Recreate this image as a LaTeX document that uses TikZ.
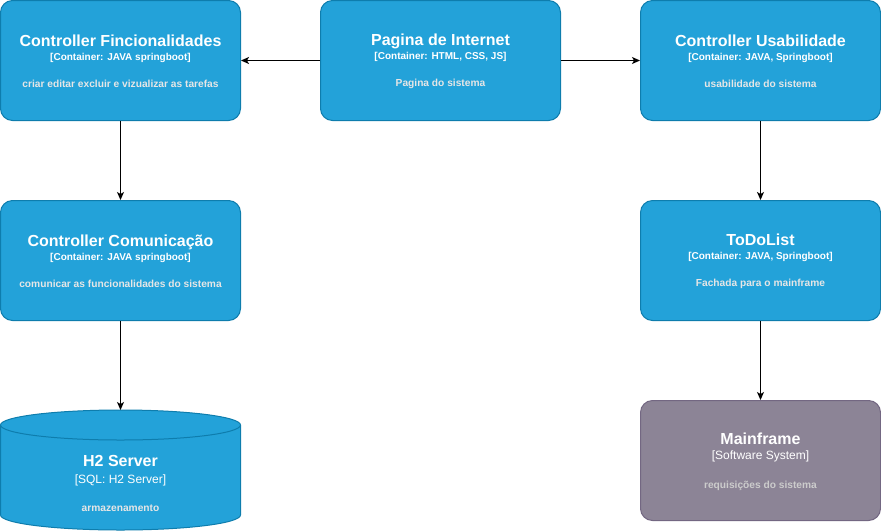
\documentclass[tikz,border=0pt]{standalone}
\usepackage{fontspec}
\setmainfont{Liberation Sans}
\usetikzlibrary{arrows,arrows.meta}
\definecolor{cfill}{HTML}{23A2D9}
\definecolor{cline}{HTML}{0E7DAD}
\definecolor{sfill}{HTML}{8C8496}
\definecolor{sline}{HTML}{736782}
\definecolor{cdesc}{HTML}{E6E6E6}
\definecolor{sdesc}{HTML}{CCCCCC}
\newcommand{\ttl}[1]{{\fontsize{16}{19}\selectfont\bfseries\rule{0pt}{14pt}#1}}
\newcommand{\tech}[1]{{\fontsize{10}{12}\selectfont\bfseries #1}}
\newcommand{\dsc}[1]{{\fontsize{10.2}{12}\selectfont\bfseries\color{cdesc}#1}}

\begin{document}
\begin{tikzpicture}[x=1pt,y=-1pt]
    \tikzset{container/.style = {shape=rectangle, rounded corners=12pt, draw=cline, fill=cfill, line width=1pt,
        minimum width=240pt, minimum height=120pt, text=white, align=center, font=\fontsize{10}{13.5}\selectfont}}
    \tikzset{system/.style = {container, draw=sline, fill=sfill, font=\fontsize{12}{15.3}\selectfont}}
    \tikzset{edge/.style = {draw=black, line width=1pt, -{Stealth[length=8pt,width=7pt,inset=2pt]}}}

    \useasboundingbox (0,0) rectangle (881,531);

    % vertices
    \node[container] (fin) at (120.5,60.5) {\ttl{Controller Fincionalidades}\\ \tech{[Container: JAVA springboot]}\\[14pt] \dsc{criar editar excluir e vizualizar as tarefas}};
    \node[container] (pag) at (440.5,60.5) {\ttl{Pagina de Internet}\\ \tech{[Container: HTML, CSS, JS]}\\[14pt] \dsc{Pagina do sistema}};
    \node[container] (usa) at (760.5,60.5) {\ttl{Controller Usabilidade}\\ \tech{[Container: JAVA, Springboot]}\\[14pt] \dsc{usabilidade do sistema}};
    \node[container] (com) at (120.5,260.5) {\ttl{Controller Comunicação}\\ \tech{[Container: JAVA springboot]}\\[14pt] \dsc{comunicar as funcionalidades do sistema}};
    \node[container] (todo) at (760.5,260.5) {\ttl{ToDoList}\\ \tech{[Container: JAVA, Springboot]}\\[14pt] \dsc{Fachada para o mainframe}};
    \node[system] (main) at (760.5,460.5) {\ttl{Mainframe}\\ {[Software System]}\\[13.5pt] {\fontsize{10.2}{12}\selectfont\bfseries\color{sdesc}requisições do sistema}};

    % database
    \draw[draw=cline, fill=cfill, line width=1pt] (0.5,425) -- (0.5,515) arc (180:0:120 and 15) -- (240.5,425) arc (0:-180:120 and 15) -- cycle;
    \draw[draw=cline, line width=1pt] (0.5,425) arc (180:0:120 and 15);
    \coordinate (h2top) at (120.5,410);
    \node[text=white, align=center, font=\fontsize{12}{16.3}\selectfont] (h2) at (120.5,482) {\ttl{H2 Server}\\ {[SQL: H2 Server]}\\[11.5pt] \dsc{armazenamento}};

    % edges
    \draw[edge] (pag) -- (fin);
    \draw[edge] (pag) -- (usa);
    \draw[edge] (fin) -- (com);
    \draw[edge] (com) -- (h2top);
    \draw[edge] (usa) -- (todo);
    \draw[edge] (todo) -- (main);
\end{tikzpicture}
\end{document}
